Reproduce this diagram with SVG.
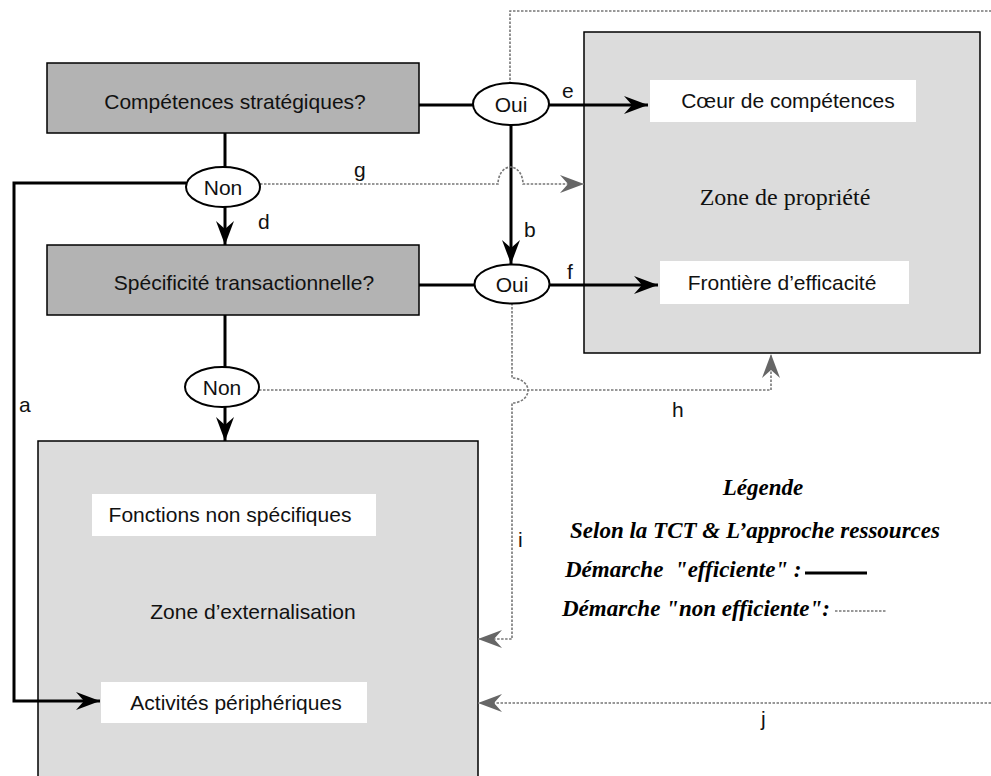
<svg xmlns="http://www.w3.org/2000/svg" width="991" height="776" viewBox="0 0 991 776">
<defs>
<marker id="ab" markerUnits="userSpaceOnUse" markerWidth="26" markerHeight="20" refX="24" refY="9" orient="auto">
<path d="M0,0 L24,9 L0,18 L8,9 z" fill="#000"/>
</marker>
<marker id="ag" markerUnits="userSpaceOnUse" markerWidth="26" markerHeight="20" refX="24" refY="9" orient="auto">
<path d="M0,0 L24,9 L0,18 L8,9 z" fill="#666"/>
</marker>
</defs>
<style>
.q{fill:#b3b3b3;stroke:#000;stroke-width:1.5}
.z{fill:#dcdcdc;stroke:#000;stroke-width:1.5}
.w{fill:#fff;stroke:none}
.el{fill:#fff;stroke:#000;stroke-width:2}
.t{font-family:"Liberation Sans",Arial,sans-serif;font-size:21px;fill:#111}
.m{text-anchor:middle}
.s{font-family:"Liberation Serif","Times New Roman",serif;font-size:24px;fill:#111}
.lg{font-family:"Liberation Serif","Times New Roman",serif;font-size:23px;font-weight:bold;font-style:italic;fill:#000}
.c{fill:none;stroke:#000;stroke-width:3}
.d{fill:none;stroke:#777;stroke-width:1.6;stroke-dasharray:2.5 1.5}
</style>
<rect width="991" height="776" fill="#fff"/>

<g id="zone-propriete">
<rect class="z" x="584" y="32" width="396" height="321"/>
<text class="s m" x="785" y="205">Zone de propriété</text>
</g>
<g id="coeur">
<rect class="w" x="650" y="80" width="266" height="42"/>
<text class="t m" x="788" y="108">Cœur de compétences</text>
</g>
<g id="frontiere">
<rect class="w" x="660" y="261" width="249" height="43"/>
<text class="t m" x="782" y="290">Frontière d’efficacité</text>
</g>
<g id="zone-externalisation">
<rect class="z" x="38" y="441" width="440" height="345"/>
<text class="t m" x="253" y="619">Zone d’externalisation</text>
</g>
<g id="fonctions">
<rect class="w" x="92" y="494" width="284" height="42"/>
<text class="t m" x="230" y="522">Fonctions non spécifiques</text>
</g>
<g id="activites">
<rect class="w" x="101" y="682" width="266" height="41"/>
<text class="t m" x="236" y="710">Activités périphériques</text>
</g>

<g id="connectors">
<path class="c" d="M419,105 H474"/>
<path class="c" d="M549,105 H648" marker-end="url(#ab)"/>
<path class="c" d="M511,125 V264" marker-end="url(#ab)"/>
<path class="c" d="M419,285 H475"/>
<path class="c" d="M550,285 H658" marker-end="url(#ab)"/>
<path class="c" d="M225,133 V167"/>
<path class="c" d="M225,207 V245" marker-end="url(#ab)"/>
<path class="c" d="M186,183 H14 V701 H100" marker-end="url(#ab)"/>
<path class="c" d="M225,315 V367"/>
<path class="c" d="M225,407 V441" marker-end="url(#ab)"/>
<path class="d" d="M510,84 V11 H991"/>
<path class="d" d="M260,184 H498 A12.5,17 0 0 1 523,184 H584" marker-end="url(#ag)"/>
<path class="d" d="M259,390 H771 V354" marker-end="url(#ag)"/>
<path class="d" d="M512,303 V378 A16,12.5 0 0 1 512,403 V639 H478" marker-end="url(#ag)"/>
<path class="d" d="M991,703 H478" marker-end="url(#ag)"/>
<text class="t" x="562" y="98">e</text>
<text class="t" x="354" y="177">g</text>
<text class="t" x="258" y="229">d</text>
<text class="t" x="524" y="237">b</text>
<text class="t" x="567" y="279">f</text>
<text class="t" x="19" y="412">a</text>
<text class="t" x="672" y="417">h</text>
<text class="t" x="518" y="547">i</text>
<text class="t" x="761" y="726">j</text>
</g>

<g id="competences">
<rect class="q" x="47" y="63" width="372" height="70"/>
<text class="t m" x="235" y="109">Compétences stratégiques?</text>
</g>
<g id="specificite">
<rect class="q" x="47" y="245" width="372" height="70"/>
<text class="t m" x="244" y="290">Spécificité transactionnelle?</text>
</g>
<g id="oui1">
<ellipse class="el" cx="511" cy="104" rx="38" ry="21"/>
<text class="t m" x="511" y="112">Oui</text>
</g>
<g id="oui2">
<ellipse class="el" cx="512" cy="284" rx="37.5" ry="19.5"/>
<text class="t m" x="512" y="292">Oui</text>
</g>
<g id="non1">
<ellipse class="el" cx="223" cy="187" rx="37" ry="20"/>
<text class="t m" x="223" y="195">Non</text>
</g>
<g id="non2">
<ellipse class="el" cx="222" cy="387" rx="37" ry="20"/>
<text class="t m" x="222" y="395">Non</text>
</g>

<g id="legende">
<text class="lg m" x="763" y="495">Légende</text>
<text class="lg m" x="755" y="538">Selon la TCT &amp; L’approche ressources</text>
<text class="lg" x="565" y="577" xml:space="preserve">Démarche  "efficiente" :</text>
<path d="M805,573 H867" stroke="#000" stroke-width="3"/>
<text class="lg" x="562" y="616">Démarche "non efficiente":</text>
<path class="d" d="M835,611 H887"/>
</g>
</svg>
